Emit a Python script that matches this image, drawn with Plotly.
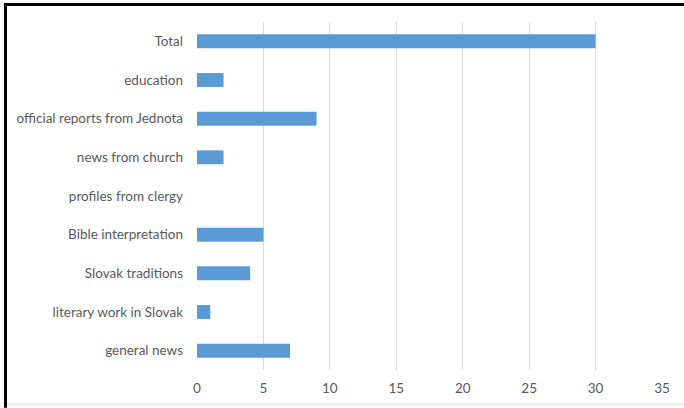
import plotly.graph_objects as go

# Categories listed bottom-to-top as they appear on the axis
categories = [
    "general news",
    "literary work in Slovak",
    "Slovak traditions",
    "Bible interpretation",
    "profiles from clergy",
    "news from church",
    "official reports from Jednota",
    "education",
    "Total",
]
counts = [7, 1, 4, 5, 0, 2, 9, 2, 30]
x_ticks = [0, 5, 10, 15, 20, 25, 30, 35]

W, H = 684, 408
L, R, T, B = 197, 22, 22, 36
pw, ph = W - L - R, H - T - B


def px_x(p):
    return (p - L) / pw


def px_y(p):
    return (H - B - p) / ph


fig = go.Figure(
    go.Bar(
        x=counts,
        y=categories,
        orientation="h",
        marker=dict(color="#5b9bd5", line=dict(width=0)),
        hoverinfo="x+y",
    )
)

fig.update_layout(
    width=W,
    height=H,
    margin=dict(l=L, r=R, t=T, b=B),
    paper_bgcolor="white",
    plot_bgcolor="white",
    bargap=0.64,
    showlegend=False,
    font=dict(family="Lato, 'Open Sans', sans-serif", size=13.5, color="#595959"),
    xaxis=dict(
        range=[0, 35],
        tickvals=x_ticks,
        showgrid=True,
        gridcolor="#d9d9d9",
        gridwidth=1,
        zeroline=False,
        showline=False,
        ticks="",
        ticklabelstandoff=8,
        fixedrange=True,
    ),
    yaxis=dict(
        type="category",
        categoryorder="array",
        categoryarray=categories,
        showgrid=False,
        zeroline=False,
        showline=False,
        ticks="",
        ticklabelstandoff=13,
        fixedrange=True,
    ),
    shapes=[
        # dark frame along top and left edges
        dict(type="line", xref="paper", yref="paper",
             x0=px_x(5.5), x1=px_x(690), y0=px_y(4.5), y1=px_y(4.5),
             line=dict(color="black", width=3)),
        dict(type="line", xref="paper", yref="paper",
             x0=px_x(5.5), x1=px_x(5.5), y0=px_y(3), y1=px_y(410),
             line=dict(color="black", width=3)),
        # faint bottom edge
        dict(type="line", xref="paper", yref="paper",
             x0=px_x(7), x1=px_x(690), y0=px_y(406.5), y1=px_y(406.5),
             line=dict(color="#d9d9d9", width=1)),
    ],
)

fig.write_html("out.html")
